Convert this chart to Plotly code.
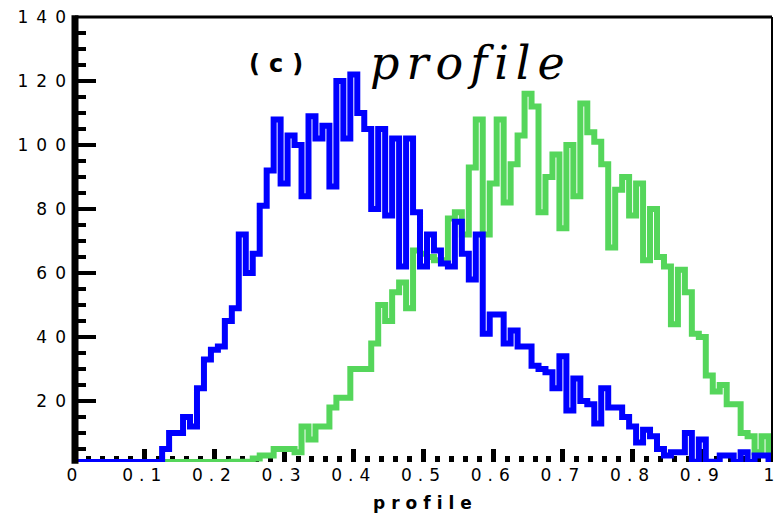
import numpy as np
import plotly.graph_objects as go

# Histogram contents: 101 bins of width 0.01, centred on 0.00, 0.01, ..., 1.00
blue_counts = [
    0, 0, 0, 0, 0, 0, 0, 0, 0, 0, 0, 0,
    0, 5, 10, 10, 15, 12, 24, 33, 36, 37,
    45, 49, 72, 60, 66, 81, 92, 108, 88, 103,
    100, 84, 109, 102, 106, 87, 120, 102, 122, 110,
    105, 80, 105, 78, 102, 62, 102, 79, 62, 72,
    67, 63, 62, 76, 66, 58, 72, 41, 47, 47,
    38, 42, 37, 37, 31, 30, 29, 24, 34, 17,
    27, 20, 19, 13, 24, 18, 18, 15, 12, 7,
    11, 9, 5, 3, 4, 4, 10, 1, 8, 1,
    0, 3, 3, 0, 4, 0, 3, 3, 0,
]
green_counts = [
    0, 0, 0, 0, 0, 0, 0, 0, 0, 0, 0, 0,
    0, 0, 0, 0, 0, 0, 0, 0, 0, 0,
    0, 1, 1, 1, 2, 3, 3, 5, 5, 5,
    4, 12, 8, 12, 12, 18, 21, 21, 30, 30,
    30, 38, 50, 45, 54, 57, 49, 67, 66, 65,
    64, 64, 77, 79, 72, 93, 108, 72, 88, 108,
    82, 94, 103, 116, 112, 79, 90, 97, 74, 100,
    84, 113, 104, 101, 94, 68, 86, 90, 78, 88,
    64, 80, 65, 62, 44, 61, 54, 41, 40, 28,
    23, 25, 19, 19, 10, 9, 4, 9, 3,
]

x_tick_values = [0, 0.1, 0.2, 0.3, 0.4, 0.5, 0.6, 0.7, 0.8, 0.9, 1.0]
x_tick_labels = ["0", "0.1", "0.2", "0.3", "0.4", "0.5", "0.6", "0.7", "0.8", "0.9", "1"]
y_tick_values = [20, 40, 60, 80, 100, 120, 140]
y_tick_labels = ["20", "40", "60", "80", "100", "120", "140"]

BIN_WIDTH = 0.01
Y_MIN, Y_MAX = 0.94, 140.0

W, H = 783, 513
M_L, M_R, M_T, M_B = 75, 3, 17, 51
PLOT_W = W - M_L - M_R
PLOT_H = H - M_T - M_B


def spaced(text, px):
    return f'<span style="letter-spacing:{px}px">{text}</span>'


def px_x(px):
    return (px - M_L) / PLOT_W


def px_y(py):
    return (H - M_B - py) / PLOT_H


def step_trace(counts, colour):
    counts = np.asarray(counts, dtype=float)
    centres = np.arange(len(counts)) * BIN_WIDTH
    edges = np.append(centres - BIN_WIDTH / 2, centres[-1] + BIN_WIDTH / 2)
    heights = np.append(counts, counts[-1])
    # empty bins sit on the lower frame edge
    heights = np.maximum(heights, Y_MIN)
    return go.Scatter(
        x=edges, y=heights, mode="lines", line_shape="hv",
        line=dict(color=colour, width=6), hoverinfo="skip", showlegend=False,
    )


fig = go.Figure()
fig.add_trace(step_trace(green_counts, "#55D65B"))
fig.add_trace(step_trace(blue_counts, "#0000FF"))

x_tick_font = dict(family="DejaVu Sans", size=17, color="black")
y_tick_font = dict(family="DejaVu Sans", size=17, color="black")

fig.update_layout(
    width=W, height=H,
    margin=dict(l=M_L, r=M_R, t=M_T, b=M_B, pad=0),
    paper_bgcolor="white", plot_bgcolor="white",
    xaxis=dict(
        range=[0, 1], showgrid=False, zeroline=False, showline=False,
        tickmode="array", tickvals=x_tick_values,
        ticktext=[spaced(t, 6) for t in x_tick_labels],
        ticks="inside", ticklen=13, tickwidth=5, tickcolor="black",
        minor=dict(tick0=0, dtick=0.02, ticks="inside", ticklen=6,
                   tickwidth=5, tickcolor="black"),
        tickfont=x_tick_font, layer="below traces",
        ticklabeloverflow="allow", ticklabelstandoff=1,
    ),
    yaxis=dict(
        range=[Y_MIN, Y_MAX], showgrid=False, zeroline=False, showline=False,
        tickmode="array", tickvals=y_tick_values,
        ticktext=[spaced(t, 8) for t in y_tick_labels],
        ticks="inside", ticklen=21, tickwidth=4, tickcolor="black",
        minor=dict(tick0=0, dtick=5, ticks="inside", ticklen=11,
                   tickwidth=4, tickcolor="black"),
        tickfont=y_tick_font, ticklabelstandoff=0,
    ),
)

# frame: heavy left axis, light top and right edges
fig.add_shape(type="line", xref="paper", yref="paper", x0=0, x1=0, y0=-0.004, y1=1.004,
              line=dict(color="black", width=7), layer="above")
fig.add_shape(type="line", xref="paper", yref="paper", x0=0, x1=1, y0=1, y1=1,
              line=dict(color="black", width=3), layer="above")
fig.add_shape(type="line", xref="paper", yref="paper", x0=1, x1=1, y0=0, y1=1,
              line=dict(color="black", width=2), layer="above")

fig.add_annotation(
    xref="paper", yref="paper", x=px_x(283), y=px_y(64),
    xanchor="center", yanchor="middle", showarrow=False,
    text=spaced("<b>(c)</b>", 9),
    font=dict(family="DejaVu Sans", size=24, color="black"),
)
fig.add_annotation(
    xref="paper", yref="paper", x=px_x(476), y=px_y(63),
    xanchor="center", yanchor="middle", showarrow=False,
    text=spaced("<i>profile</i>", 7),
    font=dict(family="DejaVu Serif", size=46, color="black"),
)
fig.add_annotation(
    xref="paper", yref="paper", x=px_x(430), y=px_y(503),
    xanchor="center", yanchor="middle", showarrow=False,
    text=spaced("<b>profile</b>", 6),
    font=dict(family="DejaVu Sans", size=17, color="black"),
)

fig.write_html("out.html")
